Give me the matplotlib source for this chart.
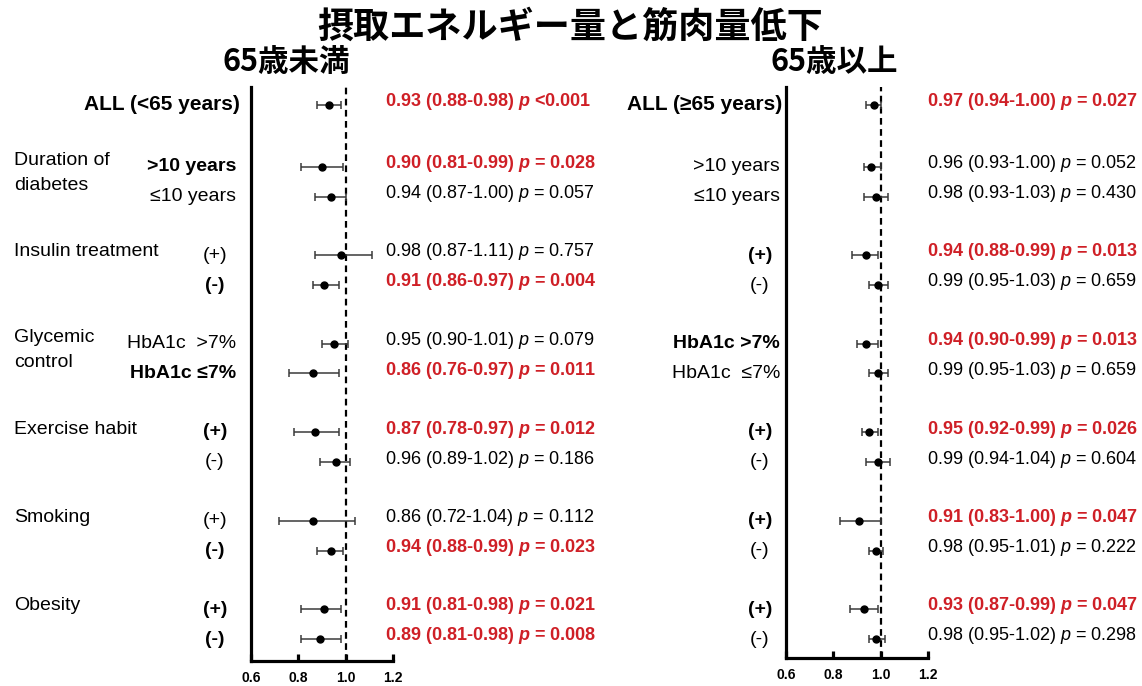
import matplotlib
matplotlib.use("Agg")
import matplotlib.pyplot as plt
import matplotlib.transforms as mtransforms

plt.rcParams['font.family'] = ['Liberation Sans', 'Noto Sans CJK JP', 'DejaVu Sans']
plt.rcParams['mathtext.fontset'] = 'custom'
plt.rcParams['mathtext.rm'] = 'Liberation Sans'
plt.rcParams['mathtext.it'] = 'Liberation Sans:italic'
plt.rcParams['mathtext.bfit'] = 'Liberation Sans:bold:italic'

title = '摂取エネルギー量と筋肉量低下'
panel_titles = ['65歳未満', '65歳以上']
all_labels = ['ALL (<65 years)', 'ALL (≥65 years)']
groups = [['Duration of', 'diabetes'], ['Insulin treatment'], ['Glycemic', 'control'],
          ['Exercise habit'], ['Smoking'], ['Obesity']]
sub_young = ['>10 years', '≤10 years', '(+)', '(-)', 'HbA1c  >7%', 'HbA1c ≤7%',
             '(+)', '(-)', '(+)', '(-)', '(+)', '(-)']
sub_old = ['>10 years', '≤10 years', '(+)', '(-)', 'HbA1c >7%', 'HbA1c  ≤7%',
           '(+)', '(-)', '(+)', '(-)', '(+)', '(-)']

# <65 years: ALL first, then two rows per group
or_young = [0.93, 0.90, 0.94, 0.98, 0.91, 0.95, 0.86, 0.87, 0.96, 0.86, 0.94, 0.91, 0.89]
lo_young = [0.88, 0.81, 0.87, 0.87, 0.86, 0.90, 0.76, 0.78, 0.89, 0.72, 0.88, 0.81, 0.81]
hi_young = [0.98, 0.99, 1.00, 1.11, 0.97, 1.01, 0.97, 0.97, 1.02, 1.04, 0.99, 0.98, 0.98]
p_young = ['<0.001', '0.028', '0.057', '0.757', '0.004', '0.079', '0.011',
           '0.012', '0.186', '0.112', '0.023', '0.021', '0.008']

# >=65 years
or_old = [0.97, 0.96, 0.98, 0.94, 0.99, 0.94, 0.99, 0.95, 0.99, 0.91, 0.98, 0.93, 0.98]
lo_old = [0.94, 0.93, 0.93, 0.88, 0.95, 0.90, 0.95, 0.92, 0.94, 0.83, 0.95, 0.87, 0.95]
hi_old = [1.00, 1.00, 1.03, 0.99, 1.03, 0.99, 1.03, 0.99, 1.04, 1.00, 1.01, 0.99, 1.02]
p_old = ['0.027', '0.052', '0.430', '0.013', '0.659', '0.013', '0.659',
         '0.026', '0.604', '0.047', '0.222', '0.047', '0.298']

xticks = [0.6, 0.8, 1.0, 1.2]

RED = '#cf1f26'
W, H = 1142, 686

fig = plt.figure(figsize=(W / 100, H / 100), dpi=100)

# row positions: ALL on top, then pairs separated by a gap
ys = [0.0]
for i in range(len(groups)):
    ys += [2.05 + 2.95 * i, 3.05 + 2.95 * i]


def px(x0, y0):
    return x0 / W, 1 - y0 / H


def sig(p):
    return p.startswith('<') or float(p) < 0.05


def stat_text(o, lo, hi, p, bold):
    pv = p if p.startswith('<') else '= ' + p
    pm = r'$\mathbfit{p}$' if bold else r'$\mathit{p}$'
    return f'{o:.2f} ({lo:.2f}-{hi:.2f}) {pm} {pv}'


panels = [
    dict(x0=251, x1=393, top=87, bottom=661, or_=or_young, lo=lo_young, hi=hi_young,
         p=p_young, subs=sub_young, all_x=240, sub_x=236, sign_x=215, stat_x=385,
         title_x=222, show_groups=True),
    dict(x0=786, x1=928, top=87, bottom=658, or_=or_old, lo=lo_old, hi=hi_old,
         p=p_old, subs=sub_old, all_x=782, sub_x=780, sign_x=760, stat_x=927,
         title_x=770, show_groups=False),
]

for k, pn in enumerate(panels):
    ax = fig.add_axes([pn['x0'] / W, 1 - pn['bottom'] / H,
                       (pn['x1'] - pn['x0']) / W, (pn['bottom'] - pn['top']) / H])
    ax.set_xlim(0.6, 1.2)
    ax.set_ylim((pn['bottom'] - 105) / 30, (pn['top'] - 105) / 30)
    for s in ['top', 'right']:
        ax.spines[s].set_visible(False)
    for s in ['left', 'bottom']:
        ax.spines[s].set_linewidth(2.3)
    ax.set_yticks([])
    ax.set_xticks(xticks)
    ax.set_xticklabels([f'{t:.1f}' for t in xticks], fontsize=10, fontweight='bold')
    ax.tick_params(axis='x', direction='in', length=5, width=2.3, pad=7)

    ax.axvline(1.0, color='black', lw=1.6, ls=(0, (3, 2)), zorder=1)

    o, lo, hi = pn['or_'], pn['lo'], pn['hi']
    ax.errorbar(o, ys, xerr=[[a - b for a, b in zip(o, lo)], [c - a for a, c in zip(o, hi)]],
                fmt='o', color='black', ms=5, ecolor='#3a3a3a', elinewidth=1.1,
                capsize=3, capthick=1.1, zorder=3)

    tr = mtransforms.blended_transform_factory(fig.transFigure, ax.transData)

    # row labels
    fig.text(pn['all_x'] / W, ys[0], all_labels[k], transform=tr, ha='right',
             va='center', fontsize=15, fontweight='bold')
    for j, lab in enumerate(pn['subs']):
        bold = sig(pn['p'][j + 1])
        if lab.startswith('('):
            fig.text(pn['sign_x'] / W, ys[j + 1], lab, transform=tr, ha='center',
                     va='center', fontsize=14, fontweight='bold' if bold else 'normal')
        else:
            fig.text(pn['sub_x'] / W, ys[j + 1], lab, transform=tr, ha='right',
                     va='center', fontsize=14, fontweight='bold' if bold else 'normal')

    # group names (left panel only)
    if pn['show_groups']:
        for i, g in enumerate(groups):
            y0 = ys[1 + 2 * i]
            if len(g) == 1:
                fig.text(14 / W, y0 - 0.1, g[0], transform=tr, ha='left', va='center',
                         fontsize=14)
            else:
                fig.text(14 / W, y0 - 0.2, g[0], transform=tr, ha='left', va='center',
                         fontsize=14)
                fig.text(14 / W, y0 + 0.65, g[1], transform=tr, ha='left', va='center',
                         fontsize=14)

    # estimate text
    for j in range(len(o)):
        bold = sig(pn['p'][j])
        fig.text(pn['stat_x'] / W, ys[j] - 0.1, stat_text(o[j], lo[j], hi[j], pn['p'][j], bold),
                 transform=tr, ha='left', va='center', fontsize=13,
                 fontweight='bold' if bold else 'normal', color=RED if bold else 'black')

    fig.text(*px(pn['title_x'], 62), panel_titles[k], ha='left', va='center',
             fontsize=22, fontweight='bold', family=['Noto Sans CJK JP'])

fig.text(*px(570, 27), title, ha='center', va='center', fontsize=26,
         fontweight='bold', family=['Noto Sans CJK JP'])

fig.savefig('out.png', dpi=100)
